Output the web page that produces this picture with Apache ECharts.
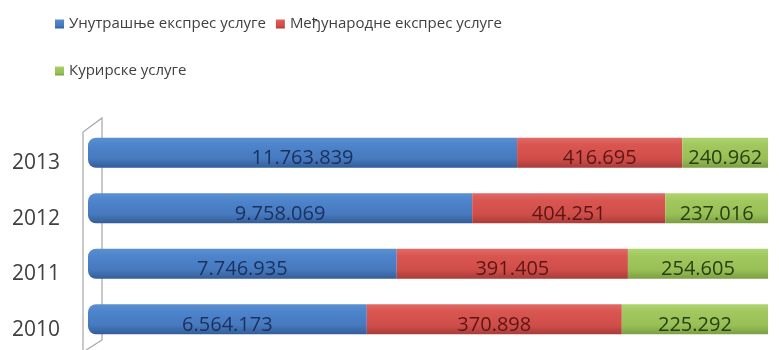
<!DOCTYPE html>
<html>
<head>
<meta charset="utf-8">
<script src="https://cdn.jsdelivr.net/npm/echarts@6/dist/echarts.min.js"></script>
<style>html,body{margin:0;padding:0;background:#fff;}#c{width:779px;height:350px;}</style>
</head>
<body>
<div id="c"></div>
<script>
// Categories (bottom to top)
const years = ['2010', '2011', '2012', '2013'];
const seriesNames = ['Унутрашње експрес услуге', 'Међународне експрес услуге', 'Курирске услуге'];
// Values shown in labels
const domesticValues = [6564173, 7746935, 9758069, 11763839];
const internationalValues = [370898, 391405, 404251, 416695];
const courierValues = [225292, 254605, 237016, 240962];
// Segment lengths as drawn (percent of bar)
const domesticShare = [41.0, 45.4, 56.5, 63.1];
const internationalShare = [37.5, 34.0, 28.4, 24.3];
const courierShare = [21.5, 20.6, 15.1, 12.6];

function fmt(v) {
  return String(v).replace(/\B(?=(\d{3})+(?!\d))/g, '.');
}
function grad(c0, c1, c2, c3) {
  return new echarts.graphic.LinearGradient(0, 0, 0, 1, [
    {offset: 0, color: c0}, {offset: 0.25, color: c1}, {offset: 0.7, color: c2}, {offset: 1, color: c3}
  ]);
}
const font = '"Open Sans", "Noto Sans", sans-serif';
const chart = echarts.init(document.getElementById('c'), null, {renderer: 'canvas'});
function mk(name, shares, values, color, labelColor, radius) {
  return {
    name: name, type: 'bar', stack: 'all', barWidth: 30,
    data: shares,
    itemStyle: {color: color, borderRadius: radius},
    label: {
      show: true, position: 'inside', offset: [0, 6],
      fontFamily: font, fontSize: 20, color: labelColor,
      formatter: p => fmt(values[p.dataIndex])
    },
    emphasis: {disabled: true}
  };
}
const legendCommon = {
  itemGap: 10, padding: 0, itemWidth: 9, itemHeight: 9, icon: 'rect', orient: 'horizontal',
  textStyle: {fontFamily: font, fontSize: 15, color: '#404040', lineHeight: 20}
};
chart.setOption({
  animation: false,
  color: ['#4a7fc4', '#d65450', '#9dc45c'],
  legend: [
    Object.assign({left: 55, top: 14, data: [seriesNames[0], seriesNames[1]]}, legendCommon),
    Object.assign({left: 55, top: 61, data: [seriesNames[2]]}, legendCommon)
  ],
  grid: {left: 88, right: 11, top: 125, bottom: 3},
  xAxis: {type: 'value', min: 0, max: 100, show: false},
  yAxis: {
    type: 'category', data: years,
    axisLine: {show: false}, axisTick: {show: false},
    axisLabel: {fontFamily: font, fontSize: 21, color: '#404040', margin: 28, verticalAlign: 'top', lineHeight: 21}
  },
  graphic: [{
    type: 'polyline', silent: true,
    shape: {points: [[83, 350], [83, 132], [102, 118], [102, 340], [83, 352]]},
    style: {stroke: '#a6a6a6', lineWidth: 1.2, fill: null}
  }],
  series: [
    mk(seriesNames[0], domesticShare, domesticValues, grad('#5b8fd0', '#4d84cb', '#4779be', '#335d98'), '#1a3260', [8, 0, 0, 8]),
    mk(seriesNames[1], internationalShare, internationalValues, grad('#e06a66', '#d95550', '#d04e4a', '#a83c39'), '#5e1614', 0),
    mk(seriesNames[2], courierShare, courierValues, grad('#afd46e', '#a0c85e', '#98c056', '#7c9e43'), '#26400f', 0)
  ]
});
</script>
</body>
</html>
